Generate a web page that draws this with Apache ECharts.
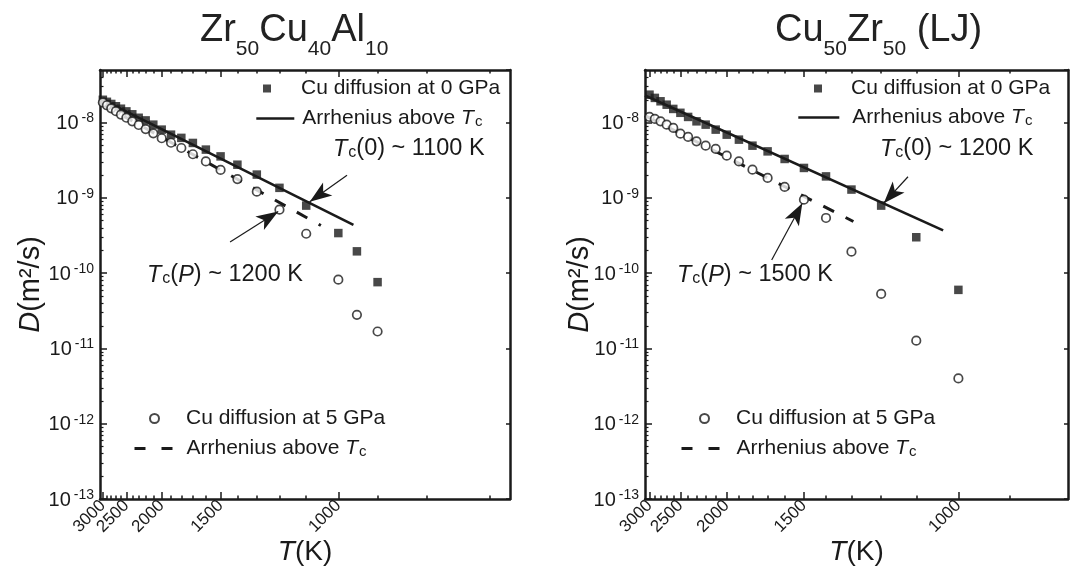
<!DOCTYPE html>
<html><head><meta charset="utf-8">
<script src="https://cdn.jsdelivr.net/npm/echarts@6/dist/echarts.min.js"></script>
<style>html,body{margin:0;padding:0;background:#fff}#c{width:1071px;height:571px}</style>
</head><body><div id="c"></div>
<script>
const FONT = '"Liberation Sans", Arial, Helvetica, sans-serif';

// ---------- data (T in K, D in m^2/s) ----------
const tempsLeft = [3000,2900,2800,2700,2600,2500,2400,2300,2200,2100,2000,1900,1800,1700,1600,1500,1400,1300,1200,1100,1000,950,900];
const dLeft0GPa = [2.01e-8,1.89e-8,1.77e-8,1.65e-8,1.53e-8,1.41e-8,1.29e-8,1.16e-8,1.07e-8,9.4e-9,8.07e-9,6.92e-9,6.27e-9,5.37e-9,4.38e-9,3.56e-9,2.76e-9,2.04e-9,1.36e-9,7.9e-10,3.41e-10,1.95e-10,7.6e-11];
const dLeft5GPa = [1.85e-8,1.7e-8,1.55e-8,1.42e-8,1.28e-8,1.16e-8,1.04e-8,9.3e-9,8.2e-9,7.2e-9,6.2e-9,5.4e-9,4.6e-9,3.8e-9,3.05e-9,2.35e-9,1.78e-9,1.21e-9,6.97e-10,3.34e-10,8.2e-11,2.8e-11,1.68e-11];
const arrLeft0T = [3074, 959];   const arrLeft0D = [2.10e-8, 4.38e-10];
const arrLeft5T = [3074, 1052];  const arrLeft5D = [1.82e-8, 4.30e-10];

const tempsRight = [3000,2900,2800,2700,2600,2500,2400,2300,2200,2100,2000,1900,1800,1700,1600,1500,1400,1300,1200,1100,1000];
const dRight0GPa = [2.35e-8,2.13e-8,1.92e-8,1.73e-8,1.52e-8,1.35e-8,1.19e-8,1.04e-8,9.4e-9,8.07e-9,6.92e-9,5.94e-9,4.94e-9,4.15e-9,3.29e-9,2.50e-9,1.93e-9,1.29e-9,7.9e-10,3.0e-10,6.0e-11];
const dRight5GPa = [1.19e-8,1.12e-8,1.04e-8,9.4e-9,8.5e-9,7.14e-9,6.46e-9,5.64e-9,4.94e-9,4.47e-9,3.64e-9,3.05e-9,2.37e-9,1.84e-9,1.40e-9,9.46e-10,5.41e-10,1.93e-10,5.3e-11,1.27e-11,4.0e-12];
const arrRight0T = [3090, 1034]; const arrRight0D = [2.29e-8, 3.70e-10];
const arrRight5T = [3090, 1293]; const arrRight5D = [1.24e-8, 4.86e-10];

// annotation arrows: [T, D] start -> end
const annLeft0 = [[976, 2.0e-9], [1088, 8.9e-10]];
const annLeftP = [[1442, 2.6e-10], [1205, 6.6e-10]];
const annRight0 = [[1122, 1.91e-9], [1192, 8.5e-10]];
const annRightP = [[1675, 1.50e-10], [1508, 8.5e-10]];

// tick labels (K): split in two sets so neighbouring rotated labels never collide
const majorTempTicks = [3000,2500,2000,1500,1000];
const labelTempsA = [3000,2000,1000];
const labelTempsB = [2500,1500];
const minorTempTicks = [3000,2900,2800,2700,2600,2500,2400,2300,2200,2100,2000,1900,1800,1700,1600,1500,1400,1300,1200,1100,1000,900,800,700];
const decadeExps = [-13,-12,-11,-10,-9,-8];
const yMin = 1e-13, yMax = 5e-8;

const inv = T => 1000 / T;
const minorLogTicks = [];
decadeExps.forEach(e => { for (let k = 2; k <= 9; k++) { const v = Math.log10(k) + e; if (v < Math.log10(yMax)) minorLogTicks.push(v); } });

const LW = 2.5;
const black = '#1a1a1a';

function xLabel(temps) {
  return { customValues: temps.map(inv), rotate: 45, margin: 4, color: black, fontFamily: FONT, fontSize: 17,
    showMinLabel: true, showMaxLabel: true, hideOverlap: false, formatter: v => String(Math.round(1000 / v)) };
}

function xAxes(grid, min, max, nameText) {
  const base = { type: 'value', gridIndex: grid, min, max, splitLine: { show: false } };
  return [
    Object.assign({}, base, {
      position: 'bottom',
      axisLine: { lineStyle: { color: black, width: LW } },
      axisTick: { inside: true, length: 7, lineStyle: { color: black, width: 1.5 }, customValues: majorTempTicks.map(inv) },
      axisLabel: xLabel(labelTempsA),
      name: nameText, nameLocation: 'middle', nameGap: 39, nameMoveOverlap: false,
      nameTextStyle: { fontFamily: FONT, fontSize: 28, color: black, rich: { it: { fontStyle: 'italic', fontSize: 28, fontFamily: FONT, color: black } } }
    }),
    Object.assign({}, base, {
      position: 'bottom', axisLine: { show: false },
      axisTick: { inside: true, length: 3.5, lineStyle: { color: black, width: 1.5 }, customValues: minorTempTicks.map(inv) },
      axisLabel: xLabel(labelTempsB)
    }),
    Object.assign({}, base, {
      position: 'top',
      axisLine: { lineStyle: { color: black, width: LW } },
      axisTick: { inside: true, length: 7, lineStyle: { color: black, width: 1.5 }, customValues: majorTempTicks.map(inv) },
      axisLabel: { show: false }
    }),
    Object.assign({}, base, {
      position: 'top', axisLine: { show: false },
      axisTick: { inside: true, length: 3.5, lineStyle: { color: black, width: 1.5 }, customValues: minorTempTicks.map(inv) },
      axisLabel: { show: false }
    })
  ];
}

const yRich = {
  b: { fontFamily: FONT, fontSize: 20, color: black, verticalAlign: 'bottom' },
  p: { fontFamily: FONT, fontSize: 14, color: black, verticalAlign: 'top', padding: [0, 0, 8, 3] }
};

function yAxes(grid, nameGap) {
  return [
    {
      type: 'log', logBase: 10, gridIndex: grid, min: yMin, max: yMax, position: 'left',
      splitLine: { show: false },
      axisLine: { lineStyle: { color: black, width: LW } },
      axisTick: { inside: true, length: 7, lineStyle: { color: black, width: 1.5 } },
      axisLabel: { showMaxLabel: false, showMinLabel: true, margin: 6, rich: yRich,
        formatter: v => '{b|10}{p|' + Math.round(Math.log10(v)) + '}' },
      name: '{it|D}(m²/s)', nameLocation: 'middle', nameGap: nameGap, nameMoveOverlap: false,
      nameTextStyle: { fontFamily: FONT, fontSize: 29, color: black, rich: { it: { fontStyle: 'italic', fontSize: 29, fontFamily: FONT, color: black } } }
    },
    {
      type: 'value', gridIndex: grid, min: -13, max: Math.log10(yMax), position: 'left',
      splitLine: { show: false }, axisLine: { show: false },
      axisTick: { inside: true, length: 3.5, lineStyle: { color: black, width: 1.2 }, customValues: minorLogTicks },
      axisLabel: { show: false }
    },
    {
      type: 'log', logBase: 10, gridIndex: grid, min: yMin, max: yMax, position: 'right',
      splitLine: { show: false },
      axisLine: { lineStyle: { color: black, width: LW } },
      axisTick: { inside: true, length: 4, lineStyle: { color: black, width: 1.5 } },
      axisLabel: { show: false }
    }
  ];
}

function pairs(ts, ds) { return ts.map((t, i) => [inv(t), ds[i]]); }

function arrowLine(a) {
  return [{ coord: [inv(a[0][0]), a[0][1]] }, { coord: [inv(a[1][0]), a[1][1]] }];
}

function panelSeries(p, xi, yi, ts, d0, d5, a0T, a0D, a5T, a5D, ann0, annP) {
  const markStyle = {
    silent: true, symbol: ['none', 'arrow'], symbolSize: [12, 22],
    lineStyle: { color: black, width: 1.2, type: 'solid' }, label: { show: false },
    emphasis: { disabled: true }, animation: false
  };
  return [
    { name: p + 'arr0', type: 'line', xAxisIndex: xi, yAxisIndex: yi, data: pairs(a0T, a0D), symbol: 'none', showSymbol: false,
      lineStyle: { color: black, width: 2.6 }, itemStyle: { color: black }, z: 2, silent: true },
    { name: p + 'arr5', type: 'line', xAxisIndex: xi, yAxisIndex: yi, data: pairs(a5T, a5D), symbol: 'none', showSymbol: false,
      lineStyle: { color: black, width: 3, type: [12, 13] }, itemStyle: { color: black }, z: 2, silent: true },
    { name: p + 'sq', type: 'scatter', xAxisIndex: xi, yAxisIndex: yi, data: pairs(ts, d0), symbol: 'rect', symbolSize: 8.5,
      itemStyle: { color: black }, z: 3,
      markLine: Object.assign({ data: [arrowLine(ann0)] }, markStyle) },
    { name: p + 'ci', type: 'scatter', xAxisIndex: xi, yAxisIndex: yi, data: pairs(ts, d5), symbol: 'circle', symbolSize: 8.5,
      itemStyle: { color: '#fff', borderColor: black, borderWidth: 1.7 }, z: 4,
      markLine: Object.assign({ data: [arrowLine(annP)] }, markStyle) }
  ];
}

const legendRich = {
  it: { fontFamily: FONT, fontSize: 21, fontStyle: 'italic', color: black },
  s: { fontFamily: FONT, fontSize: 15, color: black, verticalAlign: 'bottom', padding: [6, 0, 0, 1] }
};
const legendNames = {
  sq: 'Cu diffusion at 0 GPa', ci: 'Cu diffusion at 5 GPa',
  arr0: 'Arrhenius above {it|T}{s|c}', arr5: 'Arrhenius above {it|T}{s|c}'
};
function legend(name, left, top, w, h, pad, extra) {
  return Object.assign({
    data: [name], left, top, padding: 0, orient: 'vertical', itemWidth: w, itemHeight: h, selectedMode: false,
    formatter: n => legendNames[n.slice(1)],
    textStyle: { fontFamily: FONT, fontSize: 21, color: black, padding: [0, 0, 0, pad], rich: legendRich }
  }, extra || {});
}
const solidLegend = { itemStyle: { opacity: 0 }, lineStyle: { color: black, width: 2.6, type: 'solid' } };
const dashLegend = { itemStyle: { opacity: 0 }, lineStyle: { color: black, width: 3, type: [11, 16] } };

const ann = (txt) => '{it|T}{s|c}' + txt;
const annRich = {
  it: { fontFamily: FONT, fontSize: 23.5, fontStyle: 'italic', color: black },
  s: { fontFamily: FONT, fontSize: 16, color: black, verticalAlign: 'bottom', padding: [8, 0, 0, 1] }
};
function annText(x, y, str) {
  return { type: 'text', left: x, top: y, style: { text: str, rich: annRich, font: '23.5px ' + FONT, fill: black } };
}

const titleRich = {
  m: { fontFamily: FONT, fontSize: 38, fontWeight: 'normal', color: '#222', verticalAlign: 'top', lineHeight: 38 },
  s: { fontFamily: FONT, fontSize: 21, fontWeight: 'normal', color: '#222', verticalAlign: 'bottom', padding: [27, 0, 0, 0] }
};

const option = {
  animation: false,
  backgroundColor: '#fff',
  textStyle: { fontFamily: FONT },
  title: [
    { text: '{m|Zr}{s|50}{m|Cu}{s|40}{m|Al}{s|10}', left: 200, top: 12, padding: 0, textStyle: { fontWeight: 'normal', rich: titleRich } },
    { text: '{m|Cu}{s|50}{m|Zr}{s|50}{m| (LJ)}', left: 775, top: 12, padding: 0, textStyle: { fontWeight: 'normal', rich: titleRich } }
  ],
  grid: [
    { left: 100, top: 70, width: 410, height: 429, outerBoundsMode: 'none' },
    { left: 645, top: 70, width: 423, height: 429, outerBoundsMode: 'none' }
  ],
  xAxis: [
    ...xAxes(0, inv(3074), 1.486, '{it|T}(K)'),
    ...xAxes(1, 0.3236, 1.2366, '{it|T}(K)')
  ],
  yAxis: [ ...yAxes(0, 55), ...yAxes(1, 51) ],
  legend: [
    legend('Lsq', 263, 78, 8, 8, 25),
    legend('Larr0', 255, 108, 38, 3, 3, solidLegend),
    legend('Lci', 149, 408, 9, 9, 22),
    legend('Larr5', 133, 438, 39, 3, 8, dashLegend),
    legend('Rsq', 814, 78, 8, 8, 24),
    legend('Rarr0', 797, 107, 41, 3, 8, solidLegend),
    legend('Rci', 699, 408, 9, 9, 22),
    legend('Rarr5', 680, 438, 40, 3, 10, dashLegend)
  ],
  series: [
    ...panelSeries('L', 0, 0, tempsLeft, dLeft0GPa, dLeft5GPa, arrLeft0T, arrLeft0D, arrLeft5T, arrLeft5D, annLeft0, annLeftP),
    ...panelSeries('R', 4, 3, tempsRight, dRight0GPa, dRight5GPa, arrRight0T, arrRight0D, arrRight5T, arrRight5D, annRight0, annRightP)
  ],
  graphic: [
    annText(333, 137, ann('(0) ~ 1100 K')),
    annText(147, 263, ann('({it|P}) ~ 1200 K')),
    annText(880, 137, ann('(0) ~ 1200 K')),
    annText(677, 263, ann('({it|P}) ~ 1500 K'))
  ]
};
const chart = echarts.init(document.getElementById('c'), null, { renderer: 'canvas' });
chart.setOption(option);
</script></body></html>
